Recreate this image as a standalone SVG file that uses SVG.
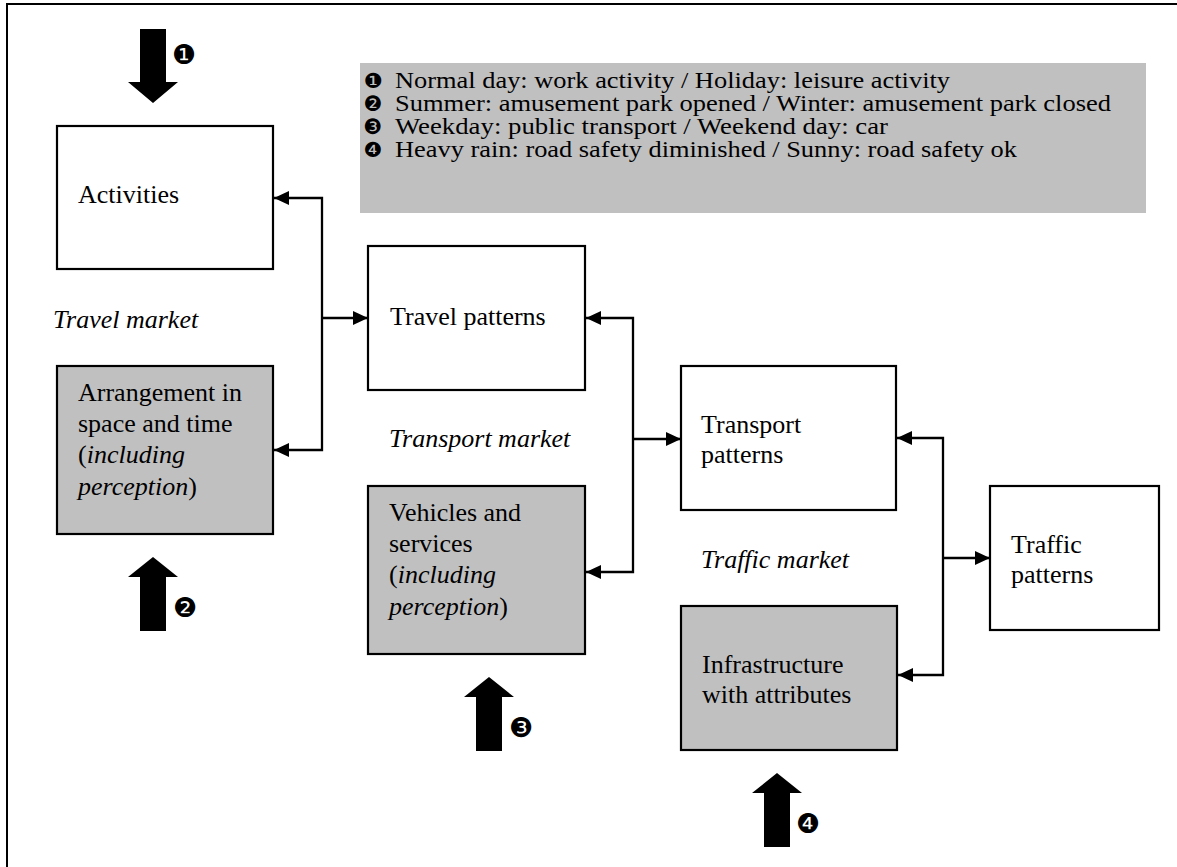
<svg xmlns="http://www.w3.org/2000/svg" width="1177" height="867" viewBox="0 0 1177 867">
<style>
.box{fill:#ffffff;stroke:#000;stroke-width:2.2}
.gbox{fill:#c0c0c0;stroke:#000;stroke-width:2.2}
.t{font-family:"Liberation Serif","Times New Roman",serif;font-size:26px;fill:#000}
.i{font-style:italic}
.lg{font-family:"Liberation Serif","Times New Roman",serif;font-size:23.5px;fill:#000}
.num{font-family:"DejaVu Sans",sans-serif;font-size:27px;fill:#000;text-anchor:middle;dominant-baseline:central}
.lnum{font-family:"DejaVu Sans",sans-serif;font-size:21px;fill:#000;text-anchor:middle;dominant-baseline:central}
.con{fill:none;stroke:#000;stroke-width:2.3}
.blk{fill:#000}
</style>
<defs>
<marker id="ah" viewBox="0 0 15 14" refX="15" refY="7" markerWidth="15" markerHeight="14" markerUnits="userSpaceOnUse" orient="auto">
<path d="M0,0 L15,7 L0,14 Z" fill="#000"/>
</marker>
</defs>
<rect x="0" y="0" width="1177" height="867" fill="#fff"/>
<rect id="frame" x="7" y="4" width="1200" height="900" fill="none" stroke="#000" stroke-width="2"/>

<g id="legend">
<rect x="360" y="63" width="786" height="150" fill="#c0c0c0"/>
<text class="lnum" x="373" y="81">❶</text>
<text class="lg" x="395" y="88" textLength="555" lengthAdjust="spacingAndGlyphs">Normal day: work activity / Holiday: leisure activity</text>
<text class="lnum" x="373" y="104">❷</text>
<text class="lg" x="395" y="111" textLength="716" lengthAdjust="spacingAndGlyphs">Summer: amusement park opened / Winter: amusement park closed</text>
<text class="lnum" x="373" y="127">❸</text>
<text class="lg" x="395" y="134" textLength="493" lengthAdjust="spacingAndGlyphs">Weekday: public transport / Weekend day: car</text>
<text class="lnum" x="373" y="150">❹</text>
<text class="lg" x="395" y="157" textLength="622" lengthAdjust="spacingAndGlyphs">Heavy rain: road safety diminished / Sunny: road safety ok</text>
</g>

<g id="activities">
<rect class="box" x="57" y="126" width="216" height="143"/>
<text class="t" x="78" y="203">Activities</text>
</g>
<g id="travel-market-label">
<text class="t i" x="53" y="328">Travel market</text>
</g>
<g id="arrangement">
<rect class="gbox" x="57" y="366" width="216" height="168"/>
<text class="t" x="78" y="401">Arrangement in</text>
<text class="t" x="78" y="432">space and time</text>
<text class="t" x="78" y="463">(<tspan class="i">including</tspan></text>
<text class="t" x="78" y="495"><tspan class="i">perception</tspan>)</text>
</g>
<g id="travel-patterns">
<rect class="box" x="368" y="246" width="217" height="144"/>
<text class="t" x="390" y="325">Travel patterns</text>
</g>
<g id="transport-market-label">
<text class="t i" x="389" y="447">Transport market</text>
</g>
<g id="vehicles">
<rect class="gbox" x="368" y="486" width="217" height="168"/>
<text class="t" x="389" y="521">Vehicles and</text>
<text class="t" x="389" y="552">services</text>
<text class="t" x="389" y="583">(<tspan class="i">including</tspan></text>
<text class="t" x="389" y="615"><tspan class="i">perception</tspan>)</text>
</g>
<g id="transport-patterns">
<rect class="box" x="681" y="366" width="215" height="144"/>
<text class="t" x="701" y="433">Transport</text>
<text class="t" x="701" y="463">patterns</text>
</g>
<g id="traffic-market-label">
<text class="t i" x="701" y="568">Traffic market</text>
</g>
<g id="infrastructure">
<rect class="gbox" x="681" y="606" width="216" height="144"/>
<text class="t" x="702" y="673">Infrastructure</text>
<text class="t" x="702" y="703">with attributes</text>
</g>
<g id="traffic-patterns">
<rect class="box" x="990" y="486" width="169" height="144"/>
<text class="t" x="1011" y="553">Traffic</text>
<text class="t" x="1011" y="583">patterns</text>
</g>

<g id="influences">
<polygon class="blk" points="140,29 166,29 166,82 178,82 153,103 128,82 140,82"/>
<text class="num" x="184" y="54">❶</text>
<polygon class="blk" points="153,557 178,577 166,577 166,631 140,631 140,577 128,577"/>
<text class="num" x="185" y="607">❷</text>
<polygon class="blk" points="489,677 514,697 502,697 502,751 476,751 476,697 464,697"/>
<text class="num" x="521" y="727">❸</text>
<polygon class="blk" points="777,773 802,793 790,793 790,847 764,847 764,793 752,793"/>
<text class="num" x="808" y="823">❹</text>
</g>

<g id="connectors">
<path class="con" d="M322,318 V198 H274" marker-end="url(#ah)"/>
<path class="con" d="M322,318 V450 H274" marker-end="url(#ah)"/>
<path class="con" d="M322,318 H368" marker-end="url(#ah)"/>
<path class="con" d="M633,439 V318 H586" marker-end="url(#ah)"/>
<path class="con" d="M633,439 V572 H586" marker-end="url(#ah)"/>
<path class="con" d="M633,439 H681" marker-end="url(#ah)"/>
<path class="con" d="M943,558 V438 H897" marker-end="url(#ah)"/>
<path class="con" d="M943,558 V675 H898" marker-end="url(#ah)"/>
<path class="con" d="M943,558 H990" marker-end="url(#ah)"/>
</g>
</svg>
